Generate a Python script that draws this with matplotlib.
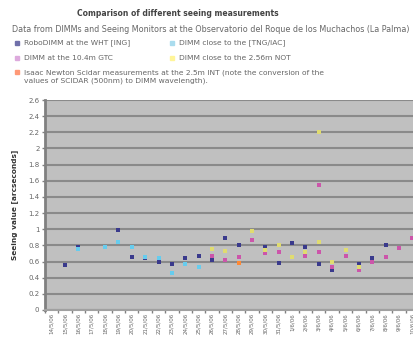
import numpy as np
import matplotlib
matplotlib.use("Agg")
import matplotlib.pyplot as plt
from matplotlib.patches import Rectangle

# category labels (observing nights)
dates = ["14/5/06", "15/5/06", "16/5/06", "17/5/06", "18/5/06", "19/5/06", "20/5/06",
         "21/5/06", "22/5/06", "23/5/06", "24/5/06", "25/5/06", "26/5/06", "27/5/06",
         "28/5/06", "29/5/06", "30/5/06", "31/5/06", "1/6/06", "2/6/06", "3/6/06",
         "4/6/06", "5/6/06", "6/6/06", "7/6/06", "8/6/06", "9/6/06", "10/6/06"]

# series: night index + seeing value
robo_idx = [1, 2, 5, 6, 7, 8, 9, 10, 11, 12, 13, 14, 16, 17, 18, 19, 20, 21, 23, 24, 25]
robo_val = [0.56, 0.78, 0.99, 0.66, 0.64, 0.60, 0.57, 0.64, 0.67, 0.62, 0.89, 0.80, 0.78,
            0.58, 0.83, 0.78, 0.57, 0.50, 0.57, 0.64, 0.80]
tng_idx = [2, 4, 5, 6, 7, 8, 9, 10, 11]
tng_val = [0.75, 0.78, 0.84, 0.78, 0.66, 0.64, 0.46, 0.57, 0.53]
gtc_idx = [12, 13, 14, 15, 16, 17, 19, 20, 20, 21, 22, 23, 24, 25, 26, 27]
gtc_val = [0.67, 0.62, 0.66, 0.87, 0.71, 0.72, 0.67, 1.55, 0.72, 0.53, 0.67, 0.50, 0.60,
           0.66, 0.77, 0.89]
not_idx = [12, 13, 15, 16, 17, 18, 19, 20, 20, 21, 22, 23]
not_val = [0.76, 0.73, 0.98, 0.74, 0.80, 0.66, 0.72, 2.2, 0.84, 0.59, 0.74, 0.53]
scidar_idx = [14]
scidar_val = [0.58]

labels = ["RoboDIMM at the WHT [ING]",
          "DIMM close to the [TNG/IAC]",
          "DIMM at the 10.4m GTC",
          "DIMM close to the 2.56m NOT",
          "Isaac Newton Scidar measurements at the 2.5m INT (note the conversion of the\n"
          "values of SCIDAR (500nm) to DIMM wavelength)."]
colors = ["#3a3a8c", "#66ccee", "#cc55aa", "#e0dc70", "#ff8833"]
legend_colors = ["#7070aa", "#aadcee", "#ddaadd", "#fff599", "#ff9977"]

fig = plt.figure(figsize=(4.14, 3.38), dpi=100)
ax = fig.add_axes([45 / 414, 28 / 338, 374 / 414, 210 / 338])
ax.set_facecolor("#c0c0c0")

series = [(robo_idx, robo_val), (tng_idx, tng_val), (gtc_idx, gtc_val),
          (not_idx, not_val), (scidar_idx, scidar_val)]
for (ix, vals), c in zip(series, colors):
    ax.plot(np.array(ix), vals, linestyle="none", marker="s", markersize=2.8,
            color=c, markeredgewidth=0, zorder=3)

ax.set_ylim(0, 2.6)
ax.set_yticks(np.arange(0, 2.61, 0.2))
ax.set_yticklabels(["0" if abs(v) < 1e-9 else ("%g" % round(v, 1)) for v in np.arange(0, 2.61, 0.2)])
ax.set_xlim(-0.5, len(dates) - 0.5)
ax.set_xticks(range(len(dates)))
ax.set_xticklabels(dates, rotation=90, fontsize=4)
ax.set_xticks(np.arange(-0.5, len(dates), 1), minor=True)
ax.tick_params(axis="x", which="major", length=0, pad=2, colors="#666666")
ax.tick_params(axis="x", which="minor", length=2, width=1, color="#808080")
ax.tick_params(axis="y", length=2, width=1, color="#808080", labelsize=5,
               labelcolor="#666666", pad=2)
ax.grid(axis="y", color="#8a8a8a", linewidth=1.5, zorder=1)
ax.set_axisbelow(True)
for s in ["top", "right"]:
    ax.spines[s].set_visible(False)
ax.spines["left"].set_color("#808080")
ax.spines["left"].set_linewidth(2)
ax.spines["bottom"].set_color("#a0a0a0")
ax.spines["bottom"].set_linewidth(1.5)
ax.set_ylabel("Seeing value [arcseconds]", fontsize=5.3, fontweight="bold",
              color="#333333", labelpad=7)

fig.text(178 / 414, 1 - 13 / 338, "Comparison of different seeing measurements",
         ha="center", va="center", fontsize=5.5, fontweight="bold", color="#444444")
fig.text(12 / 414, 1 - 29 / 338,
         "Data from DIMMs and Seeing Monitors at the Observatorio del Roque de los Muchachos (La Palma)",
         ha="left", va="center", fontsize=5.75, color="#666666")

# legend drawn by hand (2 columns, last entry spanning)
pos = [(15, 43), (170, 43), (15, 58), (170, 58), (15, 72)]
for (x, y), lab, c in zip(pos, labels, legend_colors):
    fig.patches.append(Rectangle((x / 414, 1 - (y + 2) / 338), 4 / 414, 4 / 338,
                                 transform=fig.transFigure, color=c, figure=fig))
    fig.text((x + 9) / 414, 1 - (y - 3) / 338 if "\n" in lab else 1 - y / 338, lab,
             ha="left", va="top" if "\n" in lab else "center",
             fontsize=5.4, color="#666666", linespacing=1.5)

fig.savefig("out.png", dpi=100)
